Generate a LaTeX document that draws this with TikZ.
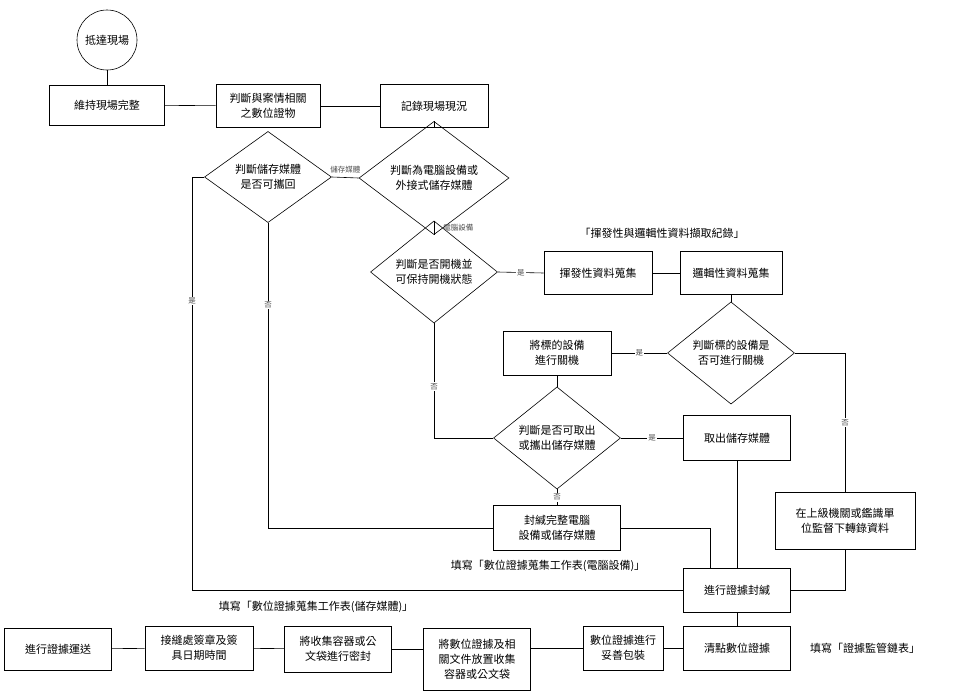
\documentclass[tikz,border=0pt]{standalone}
\usepackage{fontspec}
\setmainfont{Noto Sans CJK TC}
\usetikzlibrary{shapes.geometric}
\begin{document}
\begin{tikzpicture}[x=1pt,y=-1pt,line width=0.6pt,
      box/.style={draw,align=center,font=\fontsize{11}{15}\selectfont,inner sep=0pt},
      dec/.style={diamond,draw,align=center,font=\fontsize{11}{15}\selectfont,inner sep=0pt,minimum width=127pt,minimum height=75pt},
      lab/.style={font=\fontsize{7.5}{9}\selectfont,fill=white,inner sep=1pt,text=black!70},
      note/.style={font=\fontsize{11}{13}\selectfont,inner sep=0pt}]
    \useasboundingbox (0,0) rectangle (954,697);
    % top part
    \node[circle,draw,minimum size=60pt,inner sep=0pt,font=\fontsize{11}{13}\selectfont] (start) at (107,40) {抵達現場};
    \node[box,minimum width=115pt,minimum height=40pt] (keep) at (107,105) {維持現場完整};
    \node[box,minimum width=104pt,minimum height=43pt] (relate) at (268,106) {判斷與案情相關\\之數位證物};
    \node[box,minimum width=108pt,minimum height=43pt] (record) at (434,106) {記錄現場現況};
    \node[dec,minimum width=150pt] (devtype) at (434,178) {判斷為電腦設備或\\外接式儲存媒體};
    \node[dec] (carry) at (268,177) {判斷儲存媒體\\是否可攜回};
    \node[dec] (power) at (434,272) {判斷是否開機並\\可保持開機狀態};
    \node[box,minimum width=108pt,minimum height=43pt] (volatile) at (598,273) {揮發性資料蒐集};
    \node[box,minimum width=102pt,minimum height=43pt] (logic) at (731,273) {邏輯性資料蒐集};
    \node[note] at (662,233) {「揮發性與邏輯性資料擷取紀錄」};
    \node[dec] (canoff) at (731,353) {判斷標的設備是\\否可進行關機};
    \node[box,minimum width=108pt,minimum height=44pt] (shutdown) at (557,353) {將標的設備\\進行關機};
    \node[dec,minimum height=77pt] (remove) at (557,438) {判斷是否可取出\\或攜出儲存媒體};
    \node[box,minimum width=107pt,minimum height=45pt] (takeout) at (737,438) {取出儲存媒體};
    \node[box,minimum width=127pt,minimum height=45pt] (sealdev) at (557,528) {封緘完整電腦\\設備或儲存媒體};
    \node[box,minimum width=140pt,minimum height=57pt] (higher) at (845,521) {在上級機關或鑑識單\\位監督下轉錄資料};
    \node[box,minimum width=107pt,minimum height=44pt] (sealev) at (737,590) {進行證據封緘};
    \node[note] at (548,566) {填寫「數位證據蒐集工作表(電腦設備)」};
    % bottom row
    \node[box,minimum width=107pt,minimum height=44pt] (count) at (737,648) {清點數位證據};
    \node[note] at (865,648) {填寫「證據監管鏈表」};
    \node[box,minimum width=80pt,minimum height=44pt] (pack) at (623,648) {數位證據進行\\妥善包裝};
    \node[box,minimum width=107pt,minimum height=62pt] (place) at (477,659) {將數位證據及相\\關文件放置收集\\容器或公文袋};
    \node[box,minimum width=107pt,minimum height=46pt] (sealbag) at (338,649) {將收集容器或公\\文袋進行密封};
    \node[box,minimum width=108pt,minimum height=44pt] (sign) at (199,648) {接縫處簽章及簽\\具日期時間};
    \node[box,minimum width=107pt,minimum height=42pt] (ship) at (58,649) {進行證據運送};
    \node[note] at (316,607) {填寫「數位證據蒐集工作表(儲存媒體)」};
    % connectors
    \draw (start) -- (keep);
    \draw (keep) -- (relate);
    \draw (relate) -- (record);
    \draw (record) -- (devtype.north);
    \draw (devtype.west) -- node[lab,above=3pt,fill=none] {儲存媒體} (carry.east);
    \draw (devtype.south) -- node[lab,right=8pt,fill=none] {電腦設備} (power.north);
    \draw (power.east) -- node[lab] {是} (volatile.west);
    \draw (volatile) -- (logic);
    \draw (logic) -- (canoff.north);
    \draw (canoff.west) -- node[lab] {是} (shutdown.east);
    \draw (shutdown) -- (remove.north);
    \draw (power.south) -- node[lab,pos=0.55] {否} (434,438) -- (remove.west);
    \draw (remove.east) -- node[lab] {是} (takeout.west);
    \draw (remove.south) -- node[lab] {否} (sealdev.north);
    \draw (canoff.east) -- (845,353) -- node[lab] {否} (higher.north);
    \draw (sealdev.east) -- (710,528) -- (710,568);
    \draw (takeout) -- (sealev);
    \draw (higher.south) -- (845,590) -- (sealev.east);
    \draw (carry.west) -- (192,177) -- node[lab,pos=0.3] {是} (192,590) -- (sealev.west);
    \draw (carry.south) -- node[lab,pos=0.27] {否} (268,528) -- (sealdev.west);
    \draw (sealev) -- (count);
    \draw (count) -- (pack);
    \draw (pack) -- (place.east |- pack);
    \draw (place.west |- sealbag) -- (sealbag);
    \draw (sealbag) -- (sign);
    \draw (sign) -- (ship);
\end{tikzpicture}
\end{document}
